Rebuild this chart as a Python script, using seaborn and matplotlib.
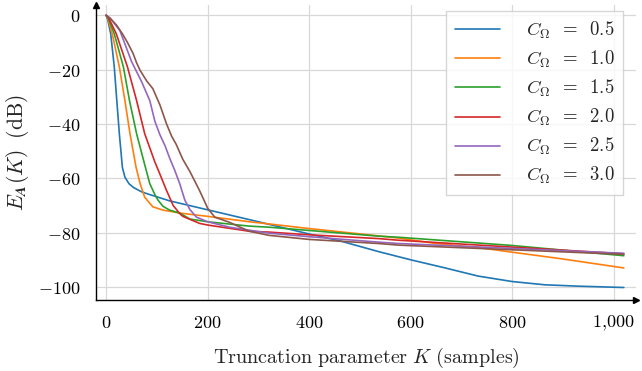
import numpy as np
import pandas as pd
import matplotlib
matplotlib.use("Agg")
import matplotlib.pyplot as plt
import seaborn as sns

# ---- data ----
c_values = ["0.5", "1.0", "1.5", "2.0", "2.5", "3.0"]

k_05 = [0, 3, 9, 16, 21, 26, 32, 37, 45, 54, 70, 86, 125, 200, 300, 400, 460, 537, 600, 668, 733, 800, 864, 929, 1020]
e_05 = [0, -1.5, -6.8, -19, -31.4, -43.6, -56, -59.6, -62, -63.4, -65, -66, -68.3, -71.6, -76, -80.5, -83, -87, -90, -93, -96, -98, -99.2, -99.7, -100.2]

k_10 = [0, 3, 12, 26, 37, 47, 59, 67, 76, 92, 112, 145, 200, 282, 321, 400, 537, 576, 650, 733, 800, 896, 1020]
e_10 = [0, -1, -6.8, -19, -31.4, -43.6, -56, -62, -67, -70.5, -71.7, -72.8, -74, -76, -76.8, -78.5, -81.2, -82, -84, -85.5, -87.2, -89.6, -93]

k_15 = [0, 4, 16, 34, 46, 60, 76, 86, 96, 102, 112, 125, 145, 165, 200, 282, 321, 400, 537, 576, 798, 1020]
e_15 = [0, -1, -6.8, -19, -31.4, -43.6, -55, -62, -66, -68, -70.3, -71.7, -72.8, -75, -76, -77.6, -78, -79.2, -81.3, -81.7, -84.7, -88.5]

k_20 = [0, 5, 20, 42, 60, 76, 96, 106, 119, 125, 132, 145, 151, 184, 200, 282, 321, 400, 537, 576, 1020]
e_20 = [0, -1, -6.8, -19, -31.4, -43.6, -54, -58.5, -64.5, -67, -70, -73, -74, -76.6, -77.2, -79.5, -79.8, -80.8, -82.2, -82.8, -87.8]

k_25 = [0, 8, 27, 50, 70, 86, 96, 106, 116, 125, 135, 145, 155, 165, 178, 200, 243, 321, 400, 537, 576, 1020]
e_25 = [0, -1, -5.6, -17, -24.5, -31.4, -39, -44, -48, -52.5, -57, -62, -68, -71.5, -74.3, -76, -78, -80.2, -81.5, -83.5, -84, -87.6]

k_30 = [0, 8, 20, 32, 42, 53, 60, 67, 76, 80, 92, 106, 119, 129, 138, 151, 165, 184, 200, 214, 243, 282, 321, 400, 537, 576, 1020]
e_30 = [0, -1.2, -3.5, -6.8, -10, -14, -17.5, -20.3, -23, -24.2, -27, -33, -40, -44.5, -47.5, -53, -57.5, -64.5, -71, -74.3, -76.2, -79.5, -81, -82.5, -84, -84.6, -88]

x_ticks = [0, 200, 400, 600, 800, 1000]
x_tick_labels = ["$0$", "$200$", "$400$", "$600$", "$800$", "$1{,}000$"]
y_ticks = [0, -20, -40, -60, -80, -100]
y_tick_labels = ["$0$", "$-20$", "$-40$", "$-60$", "$-80$", "$-100$"]

series = [(k_05, e_05), (k_10, e_10), (k_15, e_15), (k_20, e_20), (k_25, e_25), (k_30, e_30)]
labels = [r"$C_\Omega\;\;=\;\;%s\hspace{0.4}$" % c for c in c_values]

frames = []
for lab, (k, e) in zip(labels, series):
    frames.append(pd.DataFrame({"K": k, "E": e, "C": lab}))
df = pd.concat(frames, ignore_index=True)

# ---- style ----
sns.set_style("white")
plt.rcParams["mathtext.fontset"] = "cm"
plt.rcParams["font.family"] = ["DejaVu Serif"]
plt.rcParams["axes.unicode_minus"] = True

fig = plt.figure(figsize=(6.42, 3.71), dpi=100)
ax = fig.add_axes([96 / 642, 1 - 300 / 371, 540 / 642, 295 / 371])

palette = ["#1f77b4", "#ff7f0e", "#2ca02c", "#d62728", "#9467bd", "#8c564b"]
sns.lineplot(data=df, x="K", y="E", hue="C", hue_order=labels, palette=palette,
             sort=False, estimator=None, linewidth=1.2, ax=ax, legend=True)

ax.set_xlim(-20, 1044)
ax.set_ylim(-104.8, 3.8)
ax.set_xticks(x_ticks)
ax.set_xticklabels(x_tick_labels)
ax.set_yticks(y_ticks)
ax.set_yticklabels(y_tick_labels)
ax.tick_params(axis="both", length=0, labelsize=13, colors="black")
ax.tick_params(axis="x", pad=10)
ax.tick_params(axis="y", pad=11)

ax.grid(True, color="#d8d8d8", linewidth=0.9)
ax.set_axisbelow(True)
for s in ["top", "right"]:
    ax.spines[s].set_visible(False)
for s in ["left", "bottom"]:
    ax.spines[s].set_color("black")
    ax.spines[s].set_linewidth(1.0)
ax.plot(1, 0, ">", color="black", markersize=5, transform=ax.transAxes, clip_on=False)
ax.plot(0, 1, "^", color="black", markersize=5, transform=ax.transAxes, clip_on=False)

ax.set_xlabel(r"$\mathrm{Truncation\ parameter}\ K\ \mathrm{(samples)}$", fontsize=14.5, labelpad=9)
ax.set_ylabel(r"$E_{\boldsymbol{A}}(K)\;\;\mathrm{(dB)}$", fontsize=15.5, labelpad=5)

handles, labs = ax.get_legend_handles_labels()
leg = ax.legend(handles, labs, loc="upper right", bbox_to_anchor=(0.976, 0.978),
                borderaxespad=0, fontsize=13.5, frameon=True, fancybox=False,
                handlelength=2.4, handletextpad=1.4, labelspacing=0.42,
                borderpad=0.45)
leg.get_frame().set_edgecolor("#cccccc")
leg.get_frame().set_linewidth(1.0)

fig.savefig("out.png", dpi=100)
